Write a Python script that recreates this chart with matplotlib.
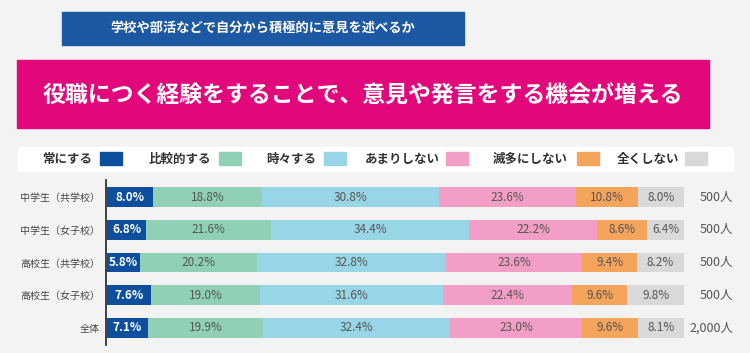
import numpy as np
import matplotlib.pyplot as plt
from matplotlib.patches import Rectangle

plt.rcParams['font.family'] = ['Noto Sans CJK JP', 'DejaVu Sans']

# データ
groups = ["中学生（共学校）", "中学生（女子校）", "高校生（共学校）", "高校生（女子校）", "全体"]
answers = ["常にする", "比較的する", "時々する", "あまりしない", "滅多にしない", "全くしない"]
always = [8.0, 6.8, 5.8, 7.6, 7.1]
often = [18.8, 21.6, 20.2, 19.0, 19.9]
sometimes = [30.8, 34.4, 32.8, 31.6, 32.4]
rarely = [23.6, 22.2, 23.6, 22.4, 23.0]
seldom = [10.8, 8.6, 9.4, 9.6, 9.6]
never = [8.0, 6.4, 8.2, 9.8, 8.1]
counts = ["500人", "500人", "500人", "500人", "2,000人"]

colors = ["#0d4f9c", "#8fd0b6", "#98d5e6", "#f29ec6", "#f5a45c", "#d9d9d9"]
text_colors = ["white", "#555555", "#555555", "#555555", "#555555", "#555555"]

W, H = 750, 353
fig = plt.figure(figsize=(W / 100, H / 100), dpi=100)
fig.patch.set_facecolor("#f4f3f4")

def box(px, py, pw, ph, color):
    # ピクセル座標(左上基準)で背景の矩形を描く
    fig.patches.append(Rectangle((px / W, 1 - (py + ph) / H), pw / W, ph / H,
                                 transform=fig.transFigure, color=color, zorder=0))

# 見出し
box(62, 12, 402, 33, "#1d59a2")
fig.text(263 / W, 1 - 28 / H, "学校や部活などで自分から積極的に意見を述べるか",
         ha="center", va="center", color="white", fontsize=9.5, fontweight="bold")
box(17, 60, 692, 68, "#e2077b")
fig.text(363 / W, 1 - 96 / H, "役職につく経験をすることで、意見や発言をする機会が増える",
         ha="center", va="center", color="white", fontsize=16.5, fontweight="bold")

# 凡例
box(18, 147, 715, 24, "white")
leg_text_right = [92, 211, 316, 440, 568, 679]
leg_sw_left = [100, 219, 324, 446, 577, 685]
for name, c, tx, sx in zip(answers, colors, leg_text_right, leg_sw_left):
    fig.text(tx / W, 1 - 159 / H, name, ha="right", va="center", fontsize=9,
             color="#333333", fontweight="bold")
    box(sx, 152, 22, 13, c)

# 棒グラフ
ax = fig.add_axes([107 / W, 1 - 345 / H, 577 / W, 165 / H])
ax.set_facecolor("none")
series = [always, often, sometimes, rarely, seldom, never]
y = np.arange(len(groups))
left = np.zeros(len(groups))
for vals, c, tc in zip(series, colors, text_colors):
    vals = np.array(vals)
    ax.barh(y, vals, left=left, height=0.6, color=c, edgecolor="none")
    for yi, l, v in zip(y, left, vals):
        ax.text(l + v / 2, yi, f"{v:.1f}%", ha="center", va="center",
                fontsize=8.5, color=tc, fontweight="bold" if tc == "white" else "normal")
    left += vals

ax.set_xlim(0, 100)
ax.set_ylim(4.52, -0.52)
ax.set_yticks(y)
ax.set_yticklabels(groups)
ax.tick_params(axis="y", length=0, pad=4, labelsize=7.2, labelcolor="#444444")
ax.set_xticks([])
for s in ["top", "right", "bottom"]:
    ax.spines[s].set_visible(False)
ax.spines["left"].set_color("#222222")
ax.spines["left"].set_linewidth(1.2)
ax.spines["left"].set_position(("outward", 1))

for yi, n in zip(y, counts):
    ax.text(108.6, yi, n, ha="right", va="center", fontsize=9, color="#555555",
            clip_on=False)

fig.savefig("out.png", dpi=100, facecolor=fig.get_facecolor())
